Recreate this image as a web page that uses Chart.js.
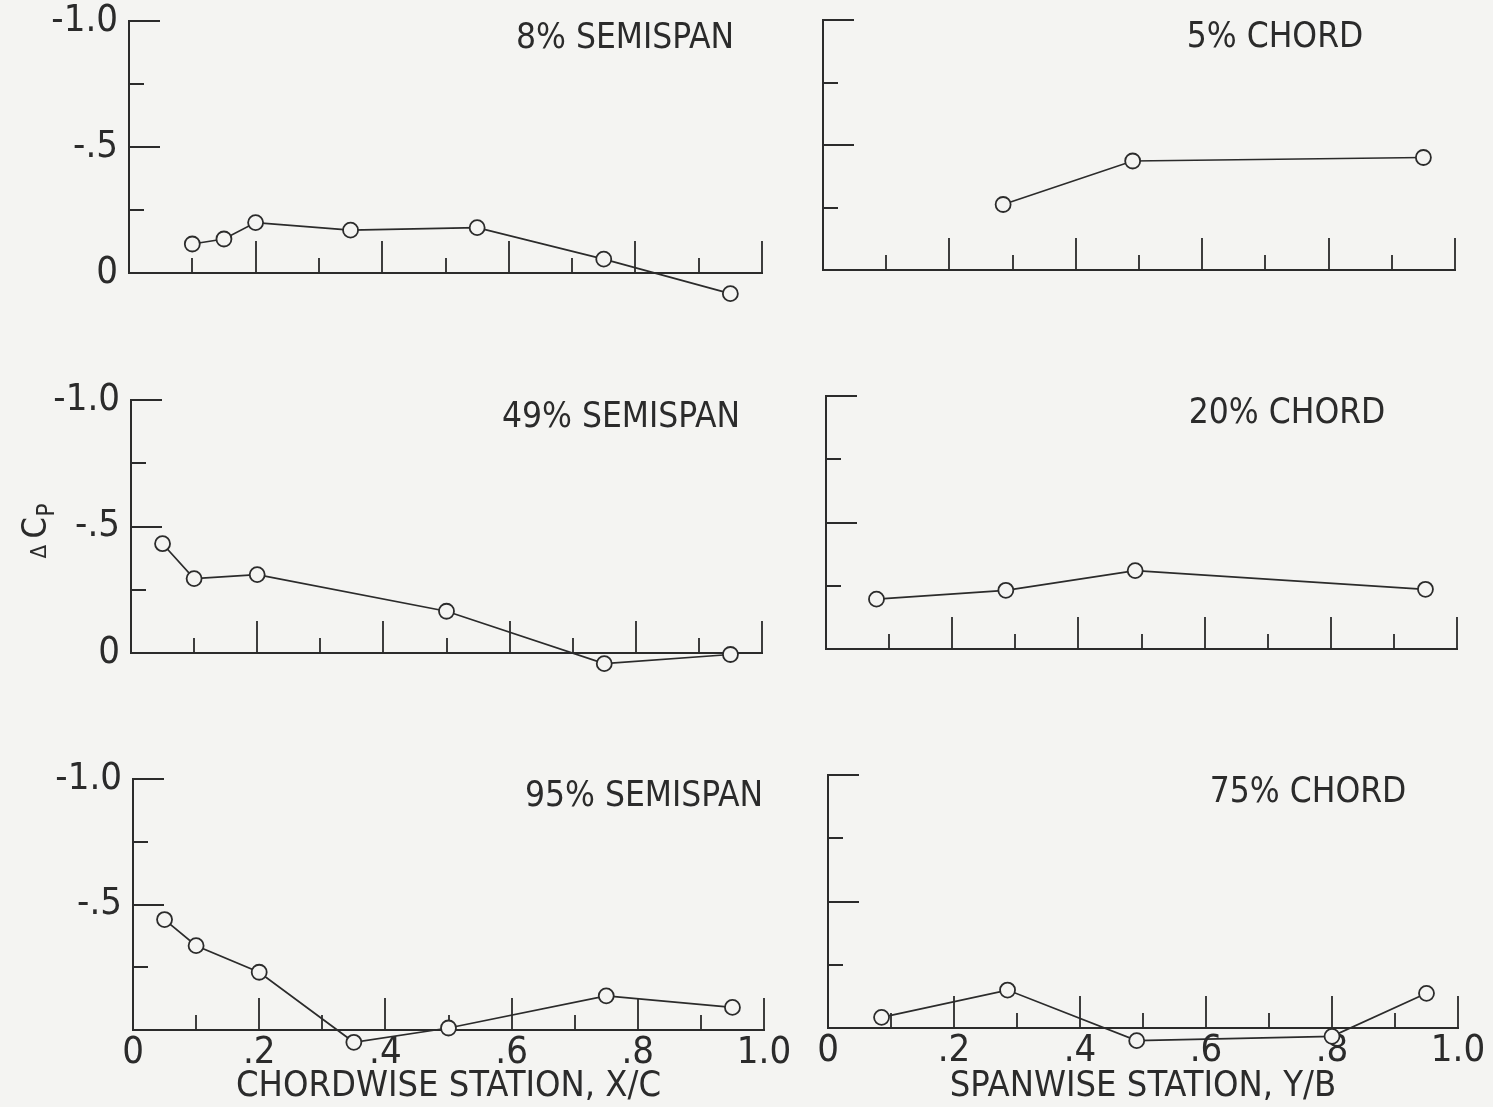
<!DOCTYPE html>
<html>
<head>
<meta charset="utf-8">
<script src="https://cdn.jsdelivr.net/npm/chart.js@4.4.0/dist/chart.umd.min.js"></script>
<style>
  body { margin: 0; background: #f4f4f2; }
  #page { position: relative; width: 1493px; height: 1107px; overflow: hidden; background: #f4f4f2; }
</style>
</head>
<body>
<div id="page"></div>
<script>
// chordwise distributions (x/c) at three semispan stations
const xcSemispan8 = [0.10, 0.15, 0.20, 0.35, 0.55, 0.75, 0.95];
const cpSemispan8 = [-0.115, -0.135, -0.20, -0.17, -0.18, -0.055, 0.082];
const xcSemispan49 = [0.05, 0.10, 0.20, 0.50, 0.75, 0.95];
const cpSemispan49 = [-0.432, -0.294, -0.31, -0.165, 0.042, 0.006];
const xcSemispan95 = [0.05, 0.10, 0.20, 0.35, 0.50, 0.75, 0.95];
const cpSemispan95 = [-0.44, -0.336, -0.23, 0.049, -0.008, -0.136, -0.09];

// spanwise distributions (y/b) at three chord stations
const ybChord5 = [0.285, 0.49, 0.95];
const cpChord5 = [-0.262, -0.436, -0.45];
const ybChord20 = [0.08, 0.285, 0.49, 0.95];
const cpChord20 = [-0.197, -0.232, -0.31, -0.236];
const ybChord75 = [0.085, 0.285, 0.49, 0.80, 0.95];
const cpChord75 = [-0.042, -0.15, 0.05, 0.033, -0.137];

const panelTitles = ["8% SEMISPAN", "5% CHORD", "49% SEMISPAN", "20% CHORD", "95% SEMISPAN", "75% CHORD"];
const xTickValues = [0, 0.1, 0.2, 0.3, 0.4, 0.5, 0.6, 0.7, 0.8, 0.9, 1.0];
const xTickLabels = ["0", ".2", ".4", ".6", ".8", "1.0"];
const yTickValues = [-1.0, -0.75, -0.5, -0.25, 0];
const yTickLabels = ["-1.0", "", "-.5", "", "0"];
const xAxisTitles = ["CHORDWISE STATION, X/C", "SPANWISE STATION, Y/B"];
const yAxisTitle = ["\u0394C", "P"];

const ink = "#2b2b2b";
const paper = "#f4f4f2";
const fontFamily = "'Liberation Sans Narrow', 'DejaVu Sans Condensed', 'Liberation Sans', sans-serif";
Chart.defaults.font.family = fontFamily;
Chart.defaults.color = ink;

const panels = [
  { title: panelTitles[0], xs: xcSemispan8, ys: cpSemispan8, col: 0, row: 0, area: { l: 129, t: 21, r: 762, b: 273 }, titleMid: 625 },
  { title: panelTitles[1], xs: ybChord5, ys: cpChord5, col: 1, row: 0, area: { l: 823, t: 20, r: 1455, b: 270 }, titleMid: 1275 },
  { title: panelTitles[2], xs: xcSemispan49, ys: cpSemispan49, col: 0, row: 1, area: { l: 131, t: 400, r: 762, b: 653 }, titleMid: 621, yTitle: true },
  { title: panelTitles[3], xs: ybChord20, ys: cpChord20, col: 1, row: 1, area: { l: 826, t: 396, r: 1457, b: 649 }, titleMid: 1287 },
  { title: panelTitles[4], xs: xcSemispan95, ys: cpSemispan95, col: 0, row: 2, area: { l: 133, t: 779, r: 764, b: 1030 }, titleMid: 644 },
  { title: panelTitles[5], xs: ybChord75, ys: cpChord75, col: 1, row: 2, area: { l: 828, t: 775, r: 1458, b: 1028 }, titleMid: 1308 },
];

// tick marks drawn inward from the axes, long every .2 / .5
const inwardTicks = {
  id: "inwardTicks",
  beforeDatasetsDraw(chart) {
    const { ctx, scales: { x, y } } = chart;
    ctx.save();
    ctx.strokeStyle = ink;
    ctx.lineWidth = 1.8;
    ctx.beginPath();
    xTickValues.forEach((v, i) => {
      if (i === 0) return;
      const px = Math.round(x.getPixelForValue(v));
      const len = i % 2 === 0 ? 32 : 15;
      ctx.moveTo(px, y.bottom);
      ctx.lineTo(px, y.bottom - len);
    });
    yTickValues.forEach((v, i) => {
      if (v === 0) return;
      const py = Math.round(y.getPixelForValue(v));
      const len = i % 2 === 0 ? 31 : 15;
      ctx.moveTo(x.left, py);
      ctx.lineTo(x.left + len, py);
    });
    ctx.stroke();
    ctx.restore();
  },
};

// let markers below the zero line (positive dCp) be drawn too
const drawBelowAxis = {
  id: "drawBelowAxis",
  beforeDatasetsDraw(chart) { chart.chartArea.bottom += 60; },
  afterDatasetsDraw(chart) { chart.chartArea.bottom -= 60; },
};

const panelLabels = {
  id: "panelLabels",
  afterDraw(chart, args, opts) {
    const { ctx, chartArea } = chart;
    ctx.save();
    ctx.fillStyle = ink;
    ctx.font = "35px " + fontFamily;
    ctx.textAlign = "center";
    ctx.textBaseline = "middle";
    ctx.fillText(opts.text, opts.x, chartArea.top + 18);
    if (opts.yTitle) {
      // rotated delta C sub P
      ctx.translate(36, (chartArea.top + chartArea.bottom) / 2 + 4);
      ctx.rotate(-Math.PI / 2);
      ctx.textAlign = "left";
      ctx.textBaseline = "alphabetic";
      ctx.font = "22px " + fontFamily;
      ctx.fillText(yAxisTitle[0].charAt(0), -28, 10);
      ctx.font = "34px " + fontFamily;
      ctx.fillText(yAxisTitle[0].charAt(1), -8, 10);
      ctx.font = "24px " + fontFamily;
      ctx.fillText(yAxisTitle[1], 14, 18);
    }
    ctx.restore();
  },
};

const page = document.getElementById("page");

function makePanel(p) {
  const canvasLeft = p.col === 0 ? 0 : 780;
  const canvasWidth = p.col === 0 ? 800 : 713;
  const padTop = 30;
  const bottomRow = p.row === 2;
  const xh = bottomRow ? 1107 - p.area.b : 44;
  const top = p.area.t - padTop;
  const height = p.area.b - top + xh;
  const cv = document.createElement("canvas");
  cv.width = canvasWidth;
  cv.height = height;
  cv.style.cssText = `position:absolute;left:${canvasLeft}px;top:${top}px;width:${canvasWidth}px;height:${height}px`;
  page.appendChild(cv);

  const points = p.xs.map((v, i) => ({ x: v, y: p.ys[i] }));

  new Chart(cv, {
    type: "scatter",
    data: {
      datasets: [
        {
          data: points,
          showLine: true,
          borderColor: ink,
          borderWidth: 1.7,
          pointRadius: 7.5,
          pointBorderWidth: 1.8,
          pointBorderColor: ink,
          pointBackgroundColor: paper,
          clip: false,
        },
      ],
    },
    options: {
      responsive: false,
      animation: false,
      devicePixelRatio: 1,
      layout: {
        padding: { top: padTop, left: 0, bottom: 0, right: canvasWidth - (p.area.r - canvasLeft) },
      },
      plugins: {
        legend: { display: false },
        tooltip: { enabled: false },
        panelLabels: { text: p.title, x: p.titleMid - canvasLeft, yTitle: !!p.yTitle },
      },
      scales: {
        x: {
          type: "linear",
          min: 0,
          max: 1,
          grid: { display: false, drawTicks: false },
          border: { display: true, color: ink, width: 2 },
          ticks: {
            display: bottomRow,
            stepSize: 0.1,
            autoSkip: false,
            maxRotation: 0,
            padding: 4,
            font: { size: 38, lineHeight: 1 },
            callback: (v) => {
              const i = Math.round(v * 10);
              return i % 2 === 0 ? xTickLabels[i / 2] : "";
            },
          },
          title: {
            display: bottomRow,
            text: xAxisTitles[p.col],
            font: { size: 36, lineHeight: 1 },
            padding: { top: 0, bottom: 2 },
          },
          afterFit: (s) => { s.height = xh; },
        },
        y: {
          type: "linear",
          min: -1,
          max: 0,
          reverse: true,
          grid: { display: false, drawTicks: false },
          border: { display: true, color: ink, width: 2 },
          ticks: {
            display: p.col === 0,
            stepSize: 0.25,
            padding: 11,
            font: { size: 38, lineHeight: 1 },
            callback: (v) => {
              const i = Math.round((v + 1) * 4);
              if (bottomRow && i === 4) return "";
              return yTickLabels[i];
            },
          },
          afterFit: (s) => { s.width = p.area.l - canvasLeft; },
        },
      },
    },
    plugins: [inwardTicks, drawBelowAxis, panelLabels],
  });
}

panels.forEach(makePanel);
</script>
</body>
</html>
